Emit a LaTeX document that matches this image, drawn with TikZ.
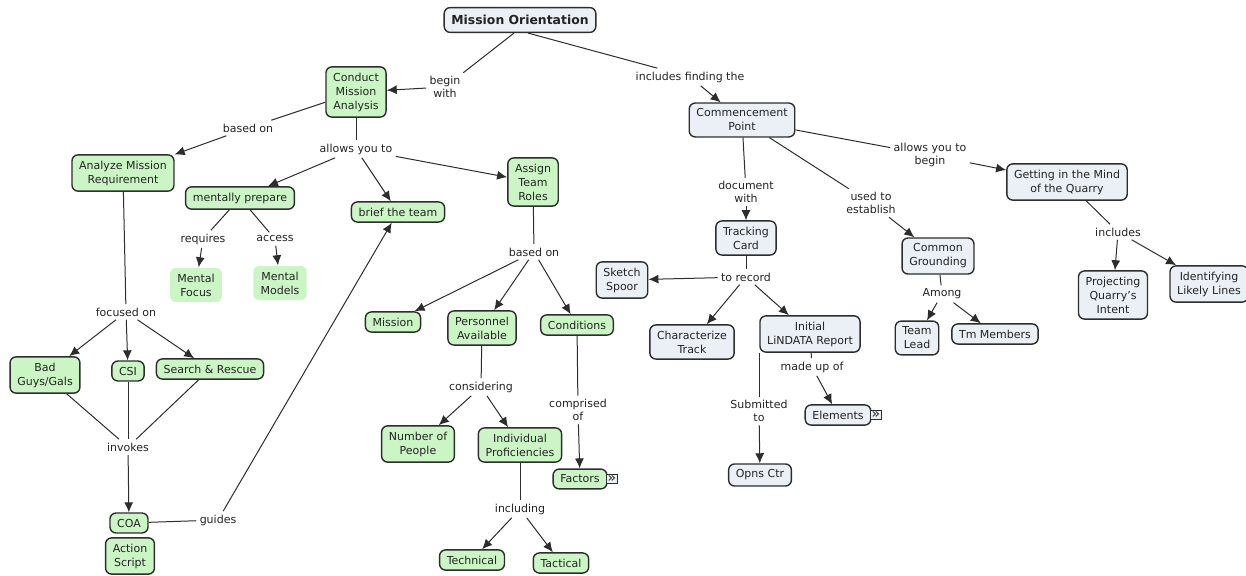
\documentclass[tikz,border=0pt]{standalone}
\usepackage{fontspec}
\setmainfont{DejaVu Sans}
\usetikzlibrary{arrows.meta}
\definecolor{cmgreen}{RGB}{204,245,198}
\definecolor{cmgrey}{RGB}{234,240,246}
\definecolor{cmline}{RGB}{45,45,45}
\definecolor{cmtext}{RGB}{35,35,35}
\tikzset{
  cpt/.style={draw=cmline,line width=.7pt,rounded corners=3pt,align=center,
    inner xsep=3.6pt,inner ysep=2.9pt,font=\fontsize{5.5}{7}\selectfont,text=cmtext},
  gc/.style={cpt,fill=cmgreen},
  bc/.style={cpt,fill=cmgrey},
  lnk/.style={align=center,inner sep=1.5pt,font=\fontsize{5.5}{6.5}\selectfont,text=cmtext},
  arr/.style={-{Latex[length=5pt,width=4.5pt]}},
  more/.style={draw=cmline,fill=cmgrey,line width=.4pt,inner xsep=.4pt,inner ysep=.6pt,
    font=\fontsize{7}{7}\selectfont,text=cmtext}
}
\begin{document}
\begin{tikzpicture}[x=.5pt,y=-.5pt,line width=.5pt,cmline]
\useasboundingbox (0,0) rectangle (1246,576);
\node[bc,inner ysep=3.8pt,font=\fontsize{6.2}{7}\selectfont\bfseries] (MO) at (520,20) {Mission Orientation};
\node[gc] (CMA) at (356,92) {Conduct\\Mission\\Analysis};
\node[bc] (CP) at (742,120) {Commencement\\Point};
\node[gc] (AMR) at (123,173) {Analyze Mission\\Requirement};
\node[gc] (MP) at (240,198) {mentally prepare};
\node[gc] (BT) at (398,212) {brief the team};
\node[gc] (ATR) at (533,182) {Assign\\Team\\Roles};
\node[gc,draw=none] (MF) at (196,285) {Mental\\Focus};
\node[gc,draw=none] (MM) at (280,283) {Mental\\Models};
\node[gc] (BG) at (45,375) {Bad\\Guys/Gals};
\node[gc] (CSI) at (128,371) {CSI};
\node[gc] (SR) at (210,369) {Search \& Rescue};
\node[gc] (COA) at (129,523) {COA};
\node[gc] (AS) at (130,556) {Action\\Script};
\node[gc] (MIS) at (393,322) {Mission};
\node[gc] (PA) at (482,328) {Personnel\\Available};
\node[gc] (CON) at (577,325) {Conditions};
\node[gc] (NP) at (418,444) {Number of\\People};
\node[gc] (IP) at (520,445) {Individual\\Proficiencies};
\node[gc] (FAC) at (580,479) {Factors};
\node[more,anchor=west] (FACm) at ([xshift=-.6pt]FAC.east) {»};
\node[gc] (TEC) at (472,560) {Technical};
\node[gc] (TAC) at (561,563) {Tactical};
\node[bc] (GMQ) at (1067,182) {Getting in the Mind\\of the Quarry};
\node[bc] (TC) at (746,238) {Tracking\\Card};
\node[bc] (CG) at (938,256) {Common\\Grounding};
\node[bc] (SS) at (622,280) {Sketch\\Spoor};
\node[bc] (CT) at (692,342) {Characterize\\Track};
\node[bc] (ILR) at (810,334) {Initial\\LiNDATA Report};
\node[bc] (EL) at (838,415) {Elements};
\node[more,anchor=west] (ELm) at ([xshift=-.6pt]EL.east) {»};
\node[bc] (OC) at (760,475) {Opns Ctr};
\node[bc] (TL) at (917,338) {Team\\Lead};
\node[bc] (TM) at (995,334) {Tm Members};
\node[bc] (PQI) at (1113,295) {Projecting\\Quarry's\\Intent};
\node[bc] (ILL) at (1209,284) {Identifying\\Likely Lines};
\node[lnk] (bw) at (445,87) {begin\\with};
\node[lnk] (ift) at (690,77) {includes finding the};
\node[lnk] (bo1) at (248,128) {based on};
\node[lnk] (ayt) at (356,149) {allows you to};
\node[lnk] (req) at (203,239) {requires};
\node[lnk] (acc) at (275,239) {access};
\node[lnk] (fo) at (126,312) {focused on};
\node[lnk] (inv) at (128,447) {invokes};
\node[lnk] (gd) at (218,520) {guides};
\node[lnk] (bo2) at (534,252) {based on};
\node[lnk] (cons) at (481,387) {considering};
\node[lnk] (co) at (578,410) {comprised\\of};
\node[lnk] (inc) at (520,509) {including};
\node[lnk] (aytb) at (930,155) {allows you to\\begin};
\node[lnk] (dw) at (746,192) {document\\with};
\node[lnk] (ute) at (871,203) {used to\\establish};
\node[lnk] (tr) at (746,277) {to record};
\node[lnk] (mu) at (812,367) {made up of};
\node[lnk] (st) at (759,411) {Submitted\\to};
\node[lnk] (am) at (942,294) {Among};
\node[lnk] (incl) at (1118,232) {includes};
\draw ([xshift=-3pt]MO.south) -- (bw);
\draw[arr] (bw) -- (CMA);
\draw ([xshift=4pt]MO.south) -- (ift);
\draw[arr] (ift) -- (CP);
\draw (CMA) -- (bo1);
\draw[arr] (bo1) -- (AMR);
\draw (CMA) -- (ayt);
\draw[arr] (ayt) -- (MP);
\draw[arr] (ayt) -- (BT);
\draw[arr] (ayt) -- (ATR);
\draw (MP) -- (req);
\draw[arr] (req) -- (MF);
\draw (MP) -- (acc);
\draw[arr] (acc) -- (MM);
\draw (AMR) -- (fo);
\draw[arr] (fo) -- (BG);
\draw[arr] (fo) -- (CSI);
\draw[arr] (fo) -- (SR);
\draw (BG) -- (inv);
\draw (CSI) -- (inv);
\draw (SR) -- (inv);
\draw[arr] (inv) -- (COA);
\draw (COA) -- (gd);
\draw[arr] (gd) -- (BT);
\draw (ATR) -- (bo2);
\draw[arr] (bo2) -- (MIS);
\draw[arr] (bo2) -- (PA);
\draw[arr] (bo2) -- (CON);
\draw (PA) -- (cons);
\draw[arr] (cons) -- (NP);
\draw[arr] (cons) -- (IP);
\draw (CON) -- (co);
\draw[arr] (co) -- (FAC);
\draw (IP) -- (inc);
\draw[arr] (inc) -- (TEC);
\draw[arr] (inc) -- (TAC);
\draw (CP) -- (aytb);
\draw[arr] (aytb) -- (GMQ);
\draw (CP) -- (dw);
\draw[arr] (dw) -- (TC);
\draw (CP) -- (ute);
\draw[arr] (ute) -- (CG);
\draw (TC) -- (tr);
\draw[arr] (tr) -- (SS);
\draw[arr] (tr) -- (CT);
\draw[arr] (tr) -- (ILR);
\draw (ILR) -- (mu);
\draw[arr] (mu) -- (EL);
\draw (st |- ILR.south) -- (st);
\draw[arr] (st) -- (OC);
\draw (CG) -- (am);
\draw[arr] (am) -- (TL);
\draw[arr] (am) -- (TM);
\draw (GMQ) -- (incl);
\draw[arr] (incl) -- (PQI);
\draw[arr] (incl) -- (ILL);
\end{tikzpicture}
\end{document}
